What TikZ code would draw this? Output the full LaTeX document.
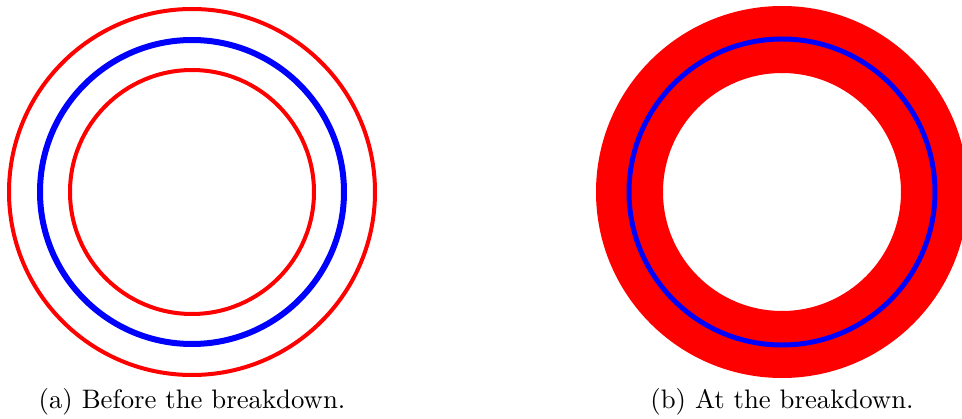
\documentclass[tikz,border=0pt]{standalone}
\begin{document}
\begin{tikzpicture}[x=0.4pt,y=-0.4pt,
  thinring/.style={draw=red,line width=1.6pt},
  blring/.style={draw=blue,line width=2.4pt},
  caption/.style={anchor=base,inner sep=0pt,font=\fontsize{10.7}{13}\selectfont}]
\useasboundingbox (0,0) rectangle (962,419);
% (a)
\coordinate (ca) at (192,192);
\draw[thinring] (ca) circle[radius=183];
\draw[blring] (ca) circle[radius=152];
\draw[thinring] (ca) circle[radius=122];
\node[caption] (capa) at (192,409) {(a) Before the breakdown.};
% (b)
\coordinate (cb) at (782,192);
\fill[red,even odd rule] (cb) circle[radius=186] (cb) circle[radius=119];
\draw[draw=blue,line width=2pt] (cb) circle[radius=153];
\node[caption] (capb) at (782,409) {(b) At the breakdown.};
\end{tikzpicture}
\end{document}
